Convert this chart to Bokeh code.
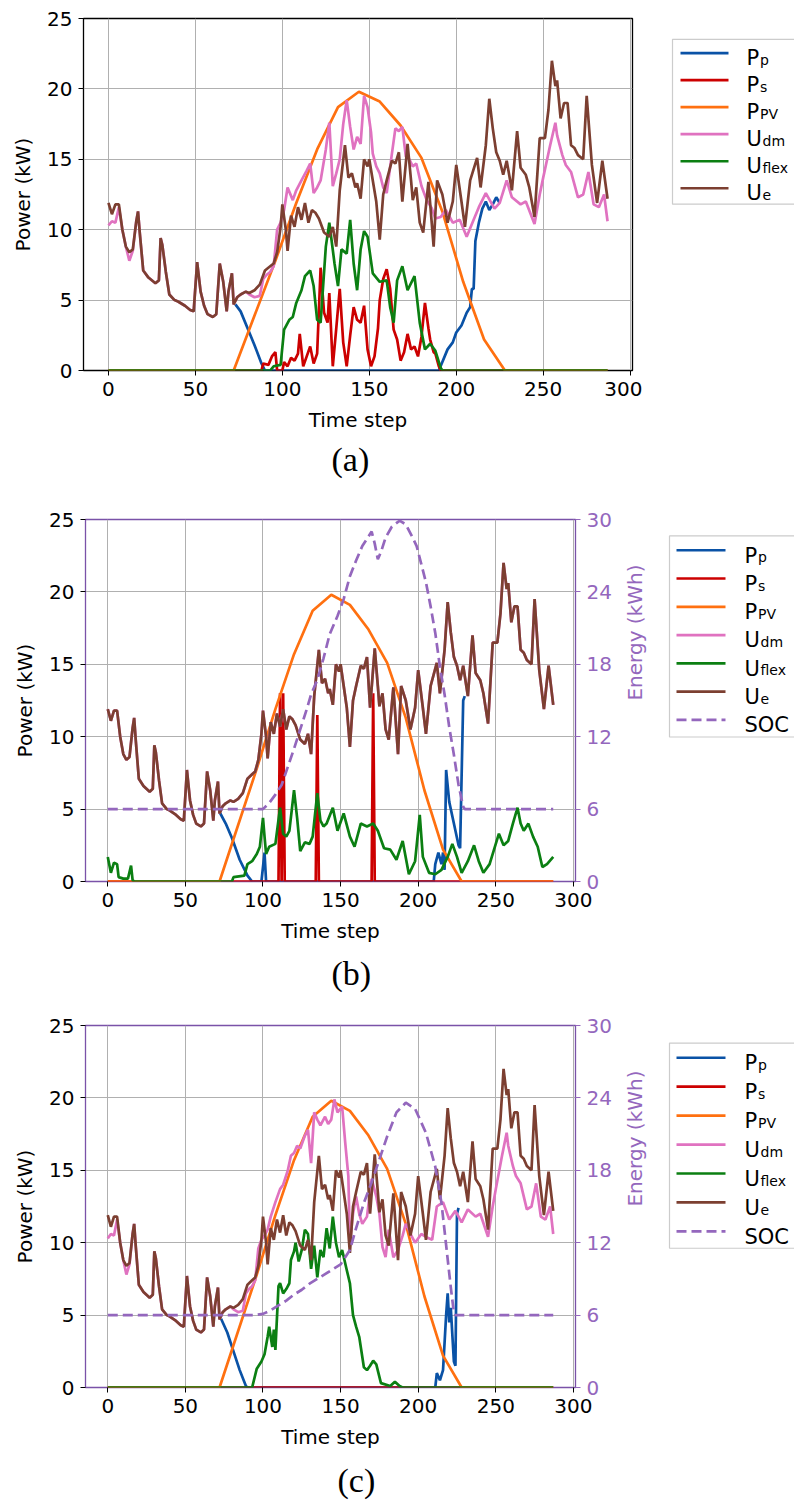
import math
from bokeh.plotting import figure
from bokeh.models import Range1d, LinearAxis, FixedTicker, Title
from bokeh.layouts import column, row
from bokeh.embed import file_html
from bokeh.resources import INLINE
from bokeh.core.properties import value

# ---------------- data (time step, kW) ----------------
UE = [(0,11.9),(2,11.1),(4,11.8),(6,11.8),(8,10.0),(10,8.8),(12,8.4),(14,8.6),(16,10.6),(17,11.3),(18,9.8),
      (20,7.1),(23,6.6),(27,6.2),(29,6.4),(30,9.4),(31,8.9),(33,7.0),(35,5.4),(38,5.0),(40,4.9),(44,4.6),
      (47,4.3),(49,4.2),(51,7.7),(53,5.6),(55,4.6),(57,4.0),(60,3.8),(62,4.0),(64,7.6),(66,6.3),(68,4.2),
      (69,5.6),(71,6.9),(72,4.7),(74,5.2),(76,5.4),(79,5.6),(81,5.5),(84,5.7),(87,6.1),(90,7.1),(93,7.4),
      (95,7.6),(97,8.4),(99,10.2),(100,11.8),(102,10.0),(103,8.5),(105,11.0),(107,10.2),(109,11.6),(111,10.7),
      (113,11.9),(115,10.5),(117,11.4),(119,11.2),(121,10.8),(124,9.8),(127,9.5),(129,10.2),(131,8.8),
      (133,12.8),(136,16.0),(138,13.7),(140,14.0),(142,13.0),(143,13.3),(145,12.2),(147,15.0),(149,14.5),
      (150,15.0),(152,13.5),(154,12.0),(156,9.3),(158,12.5),(160,13.5),(163,14.9),(165,14.7),(167,15.5),
      (169,12.0),(172,16.1),(174,13.5),(175,12.1),(177,13.0),(179,10.5),(181,9.8),(184,13.4),(187,8.8),
      (189,13.5),(192,12.5),(195,10.5),(198,12.0),(200,14.6),(203,12.0),(205,10.2),(208,13.5),(212,15.1),
      (214,13.0),(217,16.0),(219,19.3),(221,17.2),(223,15.5),(225,14.9),(227,13.9),(229,14.9),(232,12.8),
      (235,17.0),(237,14.4),(240,13.9),(242,13.0),(245,10.9),(248,16.5),(251,16.5),(253,18.5),(255,22.0),
      (257,20.2),(258,20.6),(260,17.9),(262,19.0),(264,19.0),(266,16.0),(268,15.8),(270,15.3),(273,15.0),
      (275,19.5),(278,14.6),(281,11.9),(284,14.9),(287,12.2)]

UDM_A = [(0,10.3),(2,10.6),(4,10.5),(6,11.6),(8,10.0),(10,8.8),(12,7.8),(14,8.5),(16,10.6),(17,11.3),(18,9.8),
         (20,7.1),(23,6.6),(27,6.2),(29,6.4),(30,9.4),(31,8.9),(33,7.0),(35,5.4),(38,5.0),(40,4.9),(44,4.6),
         (47,4.3),(49,4.2),(51,7.7),(53,5.6),(55,4.6),(57,4.0),(60,3.8),(62,4.0),(64,7.6),(66,6.3),(68,4.2),
         (69,5.6),(71,6.9),(72,4.7),(74,5.2),(76,5.4),(79,5.6),(81,5.4),(84,5.2),(87,5.3),(89,6.5),(91,6.8),
         (93,7.0),(95,7.4),(97,10.0),(99,10.5),(101,11.4),(103,13.0),(106,12.1),(108,12.8),(111,13.5),
         (114,14.2),(116,14.7),(118,12.6),(120,13.0),(122,13.5),(125,15.7),(127,17.6),(129,13.1),(131,14.0),
         (133,15.0),(135,17.5),(137,19.2),(139,17.3),(141,15.7),(143,16.6),(145,16.1),(147,19.5),(149,18.7),
         (151,16.9),(152,15.4),(154,14.5),(156,14.0),(158,13.0),(160,12.6),(163,15.4),(165,17.2),(167,17.0),
         (169,17.3),(171,15.2),(173,15.0),(175,14.5),(177,14.7),(180,13.1),(183,12.1),(186,11.5),(188,10.8),
         (191,10.9),(194,11.4),(198,10.5),(202,10.7),(206,9.5),(210,10.7),(213,11.6),(217,12.6),(222,11.5),
         (225,11.9),(229,13.5),(232,12.3),(237,11.8),(240,12.0),(245,10.4),(248,12.5),(250,13.7),(254,16.0),
         (257,17.6),(258,16.7),(261,15.3),(263,14.6),(266,14.1),(270,12.3),(273,12.5),(276,14.1),(279,11.8),
         (282,11.6),(285,12.5),(287,10.6)]

UDM_C = [(0,10.3),(2,10.6),(4,10.5),(6,11.6),(8,10.0),(10,8.8),(12,7.8),(14,8.5),(16,10.6),(17,11.3),(18,9.8),
         (20,7.1),(23,6.6),(27,6.2),(29,6.4),(30,9.4),(31,8.9),(33,7.0),(35,5.4),(38,5.0),(40,4.9),(44,4.6),
         (47,4.3),(49,4.2),(51,7.7),(53,5.6),(55,4.6),(57,4.0),(60,3.8),(62,4.0),(64,7.6),(66,6.3),(68,4.2),
         (69,5.6),(71,6.9),(72,4.7),(74,5.2),(76,5.4),(79,5.6),(81,5.4),(84,5.2),(87,5.3),(89,6.5),(91,6.8),
         (93,7.0),(95,7.4),(97,9.6),(99,10.2),(101,10.5),(103,10.9),(105,11.8),(108,12.8),(111,13.7),(113,14.0),
         (116,15.0),(118,16.0),(120,16.2),(122,16.7),(124,16.5),(127,17.4),(129,17.8),(131,15.5),(133,19.0),
         (135,18.5),(137,18.1),(140,18.7),(142,18.2),(144,18.5),(146,19.9),(148,19.0),(151,19.4),(153,16.9),
         (155,14.6),(156,10.0),(158,12.0),(160,13.2),(162,12.0),(164,11.3),(167,11.8),(170,14.4),(173,13.2),
         (175,12.0),(177,9.7),(179,9.0),(181,10.9),(184,9.0),(187,9.5),(190,10.5),(192,11.3),(194,10.9),
         (196,10.4),(198,10.0),(202,10.6),(205,10.4),(209,10.2),(212,12.5),(216,12.8),(220,11.6),(224,12.2),
         (228,11.4),(232,12.3),(237,11.8),(240,12.0),(245,10.4),(248,12.5),(250,13.7),(254,16.0),(257,17.6),
         (258,16.7),(261,15.3),(263,14.6),(266,14.1),(270,12.3),(273,12.5),(276,14.1),(279,11.8),(282,11.6),
         (285,12.5),(287,10.6)]

PPV = [(0,0.0),(72,0.0),(84,3.9),(96,7.8),(108,11.9),(120,15.7),(132,18.7),(144,19.8),(156,19.1),(168,17.4),
       (180,15.1),(192,11.3),(204,6.3),(216,2.2),(228,0.0),(287,0.0)]

PP_A = [(73,4.7),(76,4.2),(80,3.0),(84,1.8),(88,0.5),(90,0.0),(190,0.0),(191,0.3),(195,1.5),(198,2.0),
        (200,2.7),(203,3.2),(206,4.1),(208,4.5),(209,5.8),(210,5.8),(211,9.2),(213,10.5),(215,11.5),
        (217,12.0),(219,11.4),(221,11.8),(223,12.3),(225,11.9)]
PP_B = [(72,4.8),(76,4.0),(80,3.0),(85,1.5),(90,0.4),(93,0.0),(99,0.0),(101,2.0),(102,0.0),(210,0.0),
        (211,1.2),(213,2.0),(215,1.2),(216,2.0),(217,0.8),(218,7.7),(220,5.5),(223,4.0),(226,2.5),
        (227,2.3),(229,12.5),(230,12.8)]
PP_C = [(73,4.75),(77,3.8),(81,2.5),(85,1.2),(89,0.1),(90,0.0),(211,0.0),(212,1.0),(214,0.5),(216,1.2),
        (218,5.0),(219,6.5),(220,4.5),(221,5.5),(223,1.8),(224,1.5),(225,12.0),(226,12.4)]

PS_A = [(0,0.0),(88,0.0),(89,0.5),(92,0.4),(94,1.0),(96,1.3),(97,0.0),(100,0.0),(101,0.6),(103,0.3),
        (105,0.9),(107,0.7),(109,1.2),(110,2.6),(112,0.3),(114,1.0),(116,1.7),(118,0.5),(120,1.2),
        (122,7.3),(124,4.1),(126,3.4),(127,5.5),(129,0.3),(131,3.0),(133,5.8),(135,2.0),(137,0.3),
        (139,2.5),(141,4.5),(143,3.6),(145,3.4),(147,4.6),(149,1.5),(151,0.3),(153,1.0),(155,3.0),
        (156,5.0),(158,6.5),(160,7.2),(162,5.8),(164,2.9),(166,2.2),(168,0.7),(170,1.3),(172,2.6),
        (174,1.5),(176,1.7),(178,1.0),(180,2.4),(182,4.8),(184,3.0),(185,2.2),(187,1.3),(188,1.2),
        (190,0.3),(191,0.0),(287,0.0)]
PS_B = [(0,0.0),(110,0.0),(111,13.0),(112,0.0),(113,13.0),(114,0.0),(134,0.0),(135,11.5),(136,0.0),
        (170,0.0),(171,13.0),(172,0.0),(287,0.0)]
PS_C = [(0,0.0),(287,0.0)]

UFLEX_A = [(0,0.0),(93,0.0),(95,0.3),(99,0.4),(101,2.9),(104,3.6),(106,3.8),(108,4.8),(111,5.7),(113,6.7),
           (116,7.1),(118,6.0),(120,3.6),(122,3.4),(125,8.8),(127,10.5),(130,7.6),(132,6.0),(134,8.6),
           (137,8.3),(139,10.7),(141,7.6),(143,5.7),(145,8.6),(147,9.9),(149,9.5),(152,6.9),(156,6.3),
           (160,6.4),(162,4.5),(164,3.4),(166,6.4),(169,7.4),(172,5.7),(176,6.7),(179,3.4),(182,1.5),
           (185,1.9),(188,1.4),(191,0.2),(192,0.0),(287,0.0)]
UFLEX_B = [(0,1.7),(2,0.6),(4,1.3),(6,1.2),(7,0.3),(10,0.2),(13,0.2),(15,1.1),(16,0.1),(17,0.0),(80,0.0),
           (81,0.3),(88,0.4),(90,1.2),(93,1.4),(96,1.9),(98,2.4),(100,4.4),(101,3.1),(102,1.9),(104,2.4),
           (108,2.6),(111,5.1),(113,3.3),(115,3.1),(117,3.5),(120,6.3),(122,4.4),(124,2.1),(127,2.7),
           (130,2.6),(132,3.1),(135,6.1),(137,4.2),(139,3.8),(141,4.0),(145,5.1),(148,3.5),(152,4.7),
           (156,3.1),(159,2.4),(163,4.0),(167,3.8),(171,4.0),(174,3.5),(178,2.3),(182,2.2),(186,1.5),
           (190,2.8),(194,0.5),(198,1.4),(201,4.6),(203,1.7),(207,0.6),(211,0.5),(215,0.8),(219,1.7),
           (222,2.6),(225,1.7),(228,0.6),(232,1.4),(236,2.5),(239,1.4),(242,0.6),(246,1.2),(252,3.3),
           (255,2.5),(258,2.8),(261,4.0),(264,5.1),(266,4.0),(268,3.5),(271,4.0),(274,3.1),(277,2.4),
           (280,1.0),(283,1.2),(287,1.7)]
UFLEX_C = [(0,0.0),(93,0.0),(96,1.3),(99,1.8),(101,2.3),(103,3.5),(104,4.2),(106,2.8),(107,4.0),(108,2.6),
           (110,7.0),(111,7.2),(113,6.5),(115,6.8),(117,7.2),(118,8.8),(120,9.4),(121,10.0),(123,8.7),
           (125,9.5),(127,10.9),(129,10.6),(131,8.2),(133,9.8),(135,7.6),(137,9.5),(139,9.0),(141,11.0),
           (143,9.6),(145,11.8),(147,10.0),(149,9.0),(151,9.5),(154,8.1),(156,7.2),(158,5.0),(160,4.2),
           (162,3.5),(165,1.4),(167,1.2),(169,1.5),(171,1.85),(173,1.6),(176,0.3),(182,0.1),(185,0.4),
           (188,0.1),(190,0.0),(287,0.0)]

# state of charge (kWh, right axis)
SOC_B = [(0,6.0),(100,6.0),(104,6.5),(108,7.2),(112,8.0),(116,9.5),(120,11.0),(124,12.6),(128,14.2),
         (131,15.5),(135,16.7),(139,18.5),(143,20.5),(148,22.0),(152,23.4),(156,25.3),(160,26.6),
         (164,27.8),(167,28.4),(170,29.0),(172,28.0),(174,26.7),(176,27.3),(179,28.5),(183,29.4),
         (188,29.9),(192,29.6),(196,28.6),(199,27.8),(202,26.3),(205,24.8),(208,22.8),(211,20.6),
         (214,17.8),(217,15.5),(220,12.8),(223,10.5),(226,8.0),(229,6.2),(230,6.0),(287,6.0)]
SOC_C = [(0,6.0),(95,6.0),(100,6.1),(105,6.4),(110,6.8),(115,7.2),(120,7.7),(125,8.1),(130,8.6),(135,9.0),
         (140,9.4),(145,9.8),(150,10.2),(153,10.8),(156,11.4),(160,13.2),(165,15.3),(170,17.0),(175,18.9),
         (180,20.8),(186,22.8),(192,23.6),(198,23.1),(205,21.1),(211,18.3),(215,15.3),(218,11.8),
         (221,8.3),(223,6.2),(224,6.0),(287,6.0)]

X_TICKS = [0, 50, 100, 150, 200, 250, 300]
Y_TICKS = [0, 5, 10, 15, 20, 25]
E_TICKS = [0, 6, 12, 18, 24, 30]
LEGEND_MAIN = ["P", "P", "P", "U", "U", "U", "SOC"]
LEGEND_SUB = ["p", "s", "PV", "dm", "flex", "e", ""]

C_PP = "#0a52a6"
C_PS = "#cc0000"
C_PV = "#ff7010"
C_DM = "#e072c0"
C_FX = "#0b7f12"
C_E = "#7c3f31"
C_SOC = "#9467bd"
C_SPINE = "#7a52a8"
COLORS = [C_PP, C_PS, C_PV, C_DM, C_FX, C_E, C_SOC]

FONT = "DejaVu Sans"
LW = 2.7


def split(pts):
    return [p[0] for p in pts], [p[1] for p in pts]


def style_axis(ax, color, label_color):
    ax.axis_line_color = None
    ax.major_tick_out = 5
    ax.major_tick_in = 0
    ax.minor_tick_out = 0
    ax.minor_tick_in = 0
    ax.major_tick_line_color = color
    ax.major_label_text_font = FONT
    ax.major_label_text_font_size = "20px"
    ax.major_label_text_color = label_color
    ax.axis_label_text_font = FONT
    ax.axis_label_text_font_size = "20px"
    ax.axis_label_text_font_style = "normal"
    ax.axis_label_text_color = label_color
    ax.major_label_standoff = 6


def make_main(width, height, top, bottom, left, right, frame_color, series, soc, caption, cap_offset,
              cap_standoff):
    p = figure(width=width, height=height, output_backend="svg", toolbar_location=None,
               x_range=Range1d(-14.35, 301.35), y_range=Range1d(0, 25),
               min_border_left=left, min_border_right=right, min_border_top=top,
               min_border_bottom=bottom)
    p.xaxis.ticker = FixedTicker(ticks=X_TICKS)
    p.yaxis.ticker = FixedTicker(ticks=Y_TICKS)
    p.xaxis.axis_label = "Time step"
    p.yaxis.axis_label = "Power (kW)"
    style_axis(p.xaxis[0], "black", "black")
    style_axis(p.yaxis[0], "black", "black")
    p.xaxis.axis_label_standoff = 9
    p.yaxis.axis_label_standoff = 9
    p.grid.grid_line_color = "#b0b0b0"
    p.grid.grid_line_width = 1
    p.outline_line_color = frame_color
    p.outline_line_width = 1.3
    p.outline_line_alpha = 1.0
    p.background_fill_color = "white"
    p.border_fill_color = "white"

    if soc is not None:
        p.extra_y_ranges = {"soc": Range1d(0, 30)}
        ax2 = LinearAxis(y_range_name="soc", axis_label="Energy (kWh)",
                         ticker=FixedTicker(ticks=E_TICKS))
        style_axis(ax2, C_SOC, C_SOC)
        ax2.axis_label_standoff = 20
        try:
            ax2.axis_label_orientation = math.pi / 2
        except Exception:
            pass
        p.add_layout(ax2, "right")

    for pts, col in series:
        t, v = split(pts)
        p.line(t, v, line_color=col, line_width=LW)
    if soc is not None:
        t, s = split(soc)
        p.line(t, s, y_range_name="soc", line_color=C_SOC, line_width=LW, line_dash="10 5")

    cap = Title(text=caption, align="left", offset=cap_offset, text_font="Liberation Serif",
                text_font_size="34px", text_font_style="normal", text_color="black")
    try:
        cap.standoff = cap_standoff
    except Exception:
        pass
    p.add_layout(cap, "below")
    return p


def make_legend(width, height, box_left, box_top, box_bottom, x0, x1, xt, y_first, step, n):
    q = figure(width=width, height=height, output_backend="svg", toolbar_location=None,
               x_range=Range1d(0, width), y_range=Range1d(height, 0),
               x_axis_location=None, y_axis_location=None, min_border=0)
    q.grid.visible = False
    q.outline_line_color = None
    q.background_fill_color = "white"
    q.border_fill_color = "white"
    q.quad(left=[box_left], right=[width + 30], top=[box_top], bottom=[box_bottom],
           fill_color="white", line_color="#cccccc", line_width=1.2)
    for i in range(n):
        y = y_first + i * step
        dash = "10 5" if LEGEND_MAIN[i] == "SOC" else "solid"
        q.line([x0, x1], [y, y], line_color=COLORS[i], line_width=LW, line_dash=dash)
        q.text(x=[xt], y=[y + 7.5], text=[LEGEND_MAIN[i]], text_font=value(FONT),
               text_font_size=value("21px"), text_baseline=value("alphabetic"),
               text_align=value("left"), text_color="black")
        if LEGEND_SUB[i]:
            adv = 13.5 if LEGEND_MAIN[i] == "P" else 16.0
            q.text(x=[xt + adv], y=[y + 10.0], text=[LEGEND_SUB[i]], text_font=value(FONT),
                   text_font_size=value("14px"), text_baseline=value("alphabetic"),
                   text_align=value("left"), text_color="black")
    return q


UE_B_AS_DM = UE  # in (b) demand equals the load profile

fa = make_main(642, 508, 18, 138, 83, 10, "black",
               [(PP_A, C_PP), (PS_A, C_PS), (PPV, C_PV), (UDM_A, C_DM), (UFLEX_A, C_FX), (UE, C_E)],
               None, "(a)", 248, 9)
la = make_legend(152, 508, 30, 30, 268, 38, 86, 104, 50, 39, 6)

fb = make_main(661, 506, 11, 133, 85, 80, C_SPINE,
               [(PP_B, C_PP), (PS_B, C_PS), (PPV, C_PV), (UE_B_AS_DM, C_DM), (UFLEX_B, C_FX), (UE, C_E)],
               SOC_B, "(b)", 246, 15)
lb = make_legend(133, 506, 8, 23, 304, 15, 64, 83, 43, 39.5, 7)

fc = make_main(661, 494, 11, 121, 85, 80, C_SPINE,
               [(PP_C, C_PP), (PS_C, C_PS), (PPV, C_PV), (UDM_C, C_DM), (UFLEX_C, C_FX), (UE, C_E)],
               SOC_C, "(c)", 252, 16)
lc = make_legend(133, 494, 8, 24, 304, 15, 64, 83, 44, 39.5, 7)

layout = column(row(fa, la), row(fb, lb), row(fc, lc))
open("out.html", "w").write(file_html(layout, INLINE))
